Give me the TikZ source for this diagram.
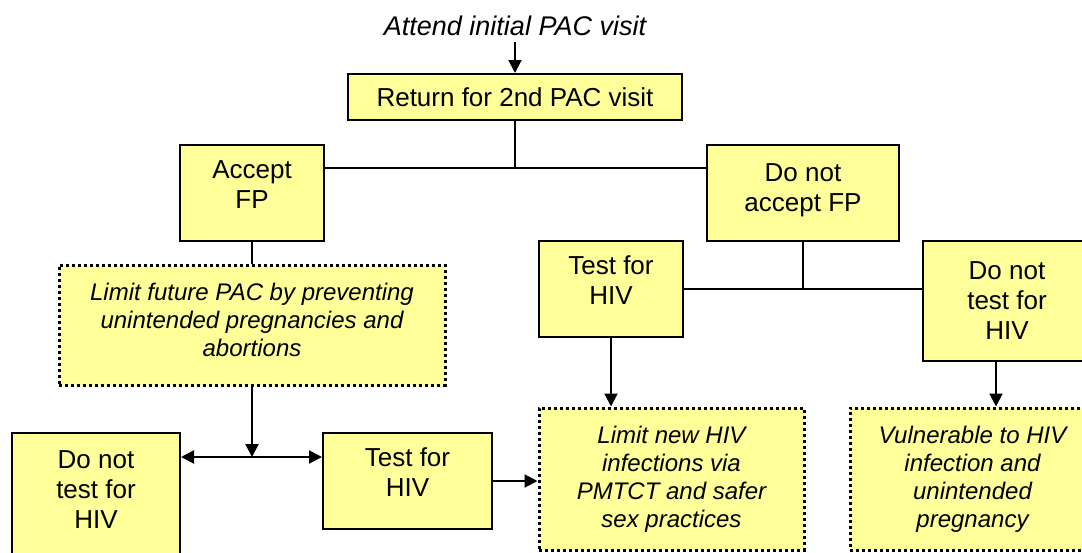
\documentclass[tikz,border=0pt]{standalone}
\usepackage{fontspec}
\setmainfont{Liberation Sans}
\usetikzlibrary{arrows.meta}
\definecolor{boxyellow}{RGB}{255,255,153}
\newcommand{\tailstrut}[1]{\rule[-#1]{0pt}{0pt}}
\begin{document}
\begin{tikzpicture}[x=1pt,y=-1pt,
  box/.style={draw=black, fill=boxyellow, line width=2pt, align=center, inner sep=0pt, font=\fontsize{26}{30}\selectfont},
  outcome/.style={box, line width=3pt, dash pattern=on 3pt off 3pt, font=\fontsize{24}{28}\selectfont\itshape},
  conn/.style={line width=2pt},
  arr/.style={conn, -{Triangle[length=13pt,width=13pt]}},
  darr/.style={conn, {Triangle[length=13pt,width=13pt]}-{Triangle[length=13pt,width=13pt]}},
]
\useasboundingbox (0,0) rectangle (1082,552);
\clip (0,0) rectangle (1082,552);

\node[font=\fontsize{27}{32}\selectfont\itshape, inner xsep=0pt, inner ysep=6pt] (start) at (515,26) {Attend initial PAC visit};
\node[box, minimum width=334pt, minimum height=46pt] (ret) at (515,97) {Return for 2nd PAC visit};
\node[box, minimum width=144pt, minimum height=96pt] (acc) at (252,193) {Accept\\FP\tailstrut{17pt}};
\node[box, minimum width=192pt, minimum height=96pt] (dna) at (803,193) {Do not\\accept FP\tailstrut{11pt}};
\node[outcome, minimum width=386pt, minimum height=120pt] (limf) at (252,325) {Limit future PAC by preventing\\unintended pregnancies and\\abortions\tailstrut{11pt}};
\node[box, minimum width=144pt, minimum height=96pt] (t1) at (611,289) {Test for\\HIV\tailstrut{17pt}};
\node[box, minimum width=168pt, minimum height=120pt] (dnt1) at (1007,301) {Do not\\test for\\HIV};
\node[outcome, minimum width=265pt, minimum height=142pt] (lnew) at (671.5,479) {Limit new HIV\\infections via\\PMTCT and safer\\sex practices};
\node[outcome, minimum width=245pt, minimum height=142pt] (vul) at (972.5,479) {Vulnerable to HIV\\infection and\\unintended\\pregnancy};
\node[box, minimum width=168pt, minimum height=147pt] (dnt2) at (96,506.5) {Do not\\test for\\HIV\tailstrut{33pt}};
\node[box, minimum width=169pt, minimum height=96pt] (t2) at (407.5,481) {Test for\\HIV\tailstrut{17pt}};

\coordinate (j1) at (515,168);
\coordinate (j2) at (252,457);
\coordinate (j3) at (803,289);
\coordinate (a8) at (996,0);

\draw[arr] (start.south) -- (ret.north);
\draw[conn] (ret.south) -- (j1);
\draw[conn] (j1 -| acc.east) -- (j1 -| dna.west);
\draw[conn] (acc.south) -- (limf.north);
\draw[arr] (limf.south) -- (j2);
\draw[darr] (j2 -| dnt2.east) -- (j2 -| t2.west);
\draw[arr] (t2.east) -- (t2.east -| lnew.west);
\draw[conn] (dna.south) -- (j3);
\draw[conn] (t1.east) -- (t1.east -| dnt1.west);
\draw[arr] (t1.south) -- (t1.south |- lnew.north);
\draw[arr] (dnt1.south -| a8) -- (vul.north -| a8);
\end{tikzpicture}
\end{document}
